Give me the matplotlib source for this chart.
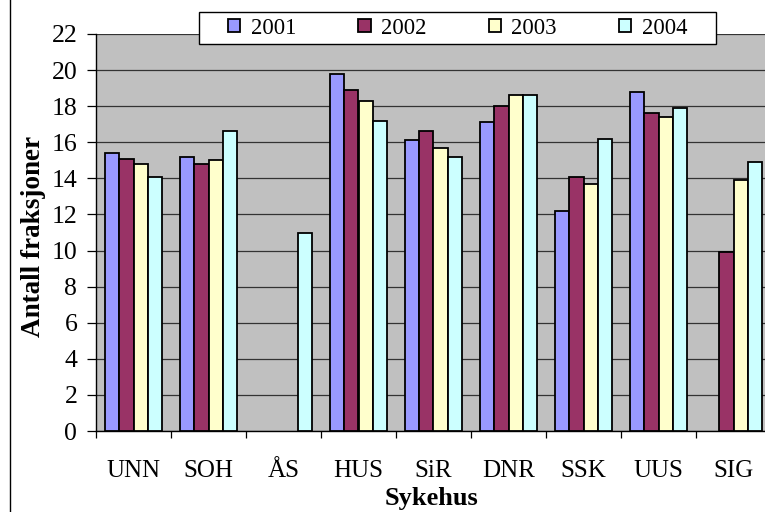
import numpy as np
import matplotlib
matplotlib.use("Agg")
import matplotlib.pyplot as plt
from matplotlib.lines import Line2D
from matplotlib.patches import Rectangle

plt.rcParams['font.family'] = ['Liberation Serif', 'DejaVu Serif']

sykehus = ['UNN', 'SOH', 'ÅS', 'HUS', 'SiR', 'DNR', 'SSK', 'UUS', 'SIG']
years = ['2001', '2002', '2003', '2004']
v2001 = [15.4, 15.2, np.nan, 19.8, 16.1, 17.1, 12.2, 18.8, np.nan]
v2002 = [15.1, 14.8, np.nan, 18.9, 16.6, 18.0, 14.1, 17.6, 9.9]
v2003 = [14.8, 15.0, np.nan, 18.3, 15.7, 18.6, 13.7, 17.4, 13.9]
v2004 = [14.1, 16.6, 11.0, 17.2, 15.2, 18.6, 16.2, 17.9, 14.9]
colors = ['#9999FF', '#993366', '#FFFFCC', '#CCFFFF']

fig = plt.figure(figsize=(7.65, 5.12), dpi=100)
ax = fig.add_axes([96/765, 81/512, 675/765, 397/512])
ax.set_facecolor('#C0C0C0')

x = np.arange(len(sykehus))
w = 0.187
series = [v2001, v2002, v2003, v2004]
for i, vals in enumerate(series):
    ax.bar(x + (i - 1.5) * w, vals, w, color=colors[i], edgecolor='black',
           linewidth=1.3, label=years[i], zorder=3)

ax.set_xlim(-0.5, 8.5)
ax.set_ylim(0, 22)
ax.set_yticks(range(0, 23, 2))
ax.yaxis.grid(True, color='#333333', linewidth=0.9, zorder=1)
ax.set_axisbelow(True)

ax.set_xticks(x)
ax.set_xticklabels(sykehus)
ax.set_xticks(np.arange(-0.5, 9, 1), minor=True)
ax.tick_params(axis='x', which='major', length=0, pad=21, labelsize=18)
ax.tick_params(axis='x', which='minor', length=5, width=0.9, direction='out')
ax.tick_params(axis='y', length=6.5, width=0.9, direction='out', pad=7, labelsize=18.5)

for s in ['top', 'right']:
    ax.spines[s].set_visible(False)
for s in ['left', 'bottom']:
    ax.spines[s].set_linewidth(1.0)

ax.set_xlabel('Sykehus', fontsize=19, fontweight='bold')
ax.xaxis.set_label_coords((432 - 96) / 675, -(487 - 431) / 397)
ax.set_ylabel('Antall fraksjoner', fontsize=19.5, fontweight='bold')
ax.yaxis.set_label_coords(-(96 - 46) / 675, (431 - 236) / 397)

# legend box drawn by hand, entries placed inside
fig.add_artist(Rectangle((199/765, 1 - 44/512), 517/765, 32/512, transform=fig.transFigure,
                         facecolor='white', edgecolor='black', linewidth=1.0, zorder=5))
leg = fig.legend(loc='center', bbox_to_anchor=(457.5/765, 1 - 28/512), ncol=4,
                 fontsize=16.3, frameon=False, handlelength=0.55, handleheight=0.55,
                 handletextpad=0.45, columnspacing=2.75, borderpad=0, borderaxespad=0)
leg.set_zorder(6)

fig.add_artist(Line2D([10/765, 10/765], [0, 1], color='black', linewidth=1.0))

fig.savefig('out.png', dpi=100)
